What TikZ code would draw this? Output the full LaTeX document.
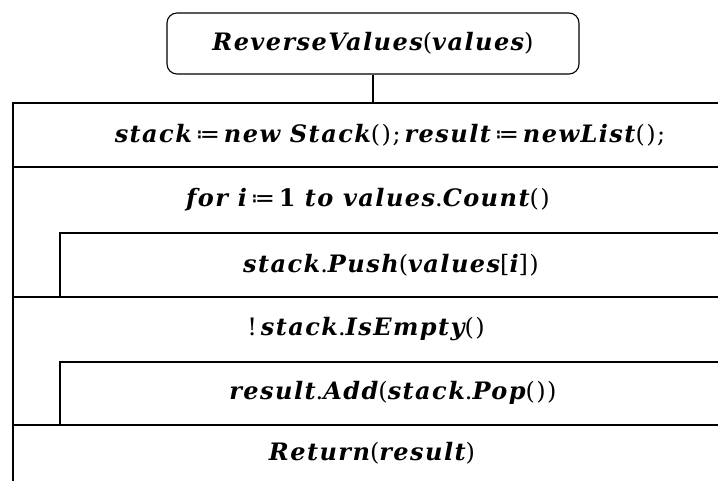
\documentclass[tikz,border=0pt]{standalone}
\usepackage{fontspec}
\setmainfont{DejaVu Serif}[LetterSpace=6]
\newfontfamily\symfont{DejaVu Sans}
\newcommand\bi[1]{{\bfseries\itshape #1}}
\newcommand\up[1]{{\mdseries\upshape #1}}
\newcommand\defeq{\,{\symfont\mdseries\upshape ≔}\,}
\begin{document}
\begin{tikzpicture}[x=1pt,y=-1pt,
  main/.style={line width=1.8pt},
  txt/.style={font=\fontsize{24}{28}\selectfont, inner sep=0pt},
  title/.style={draw, line width=1.1pt, rounded corners=10pt, minimum width=412pt, minimum height=61pt, font=\fontsize{24}{28}\selectfont}]
\useasboundingbox (0,0) rectangle (718,481);
\node[title] (rv) at (373,43.5) {\bi{ReverseValues}\up{(}\bi{values}\up{)}};
\coordinate (top) at (373,103);
\draw[line width=1.1pt] (rv.south) -- (top);
\draw[main] (13,481) -- (13,103) -- (718,103);
\draw[main] (13,167) -- (718,167);
\draw[main] (60,297) -- (60,233) -- (718,233);
\draw[main] (13,297) -- (718,297);
\draw[main] (60,425) -- (60,362) -- (718,362);
\draw[main] (13,425) -- (718,425);
\node[txt] (t1) at (390,135) {\bi{stack}\defeq\bi{new Stack}\up{();}\,\bi{result}\defeq\bi{newList}\up{();}};
\node[txt] (t2) at (368,200) {\bi{for i}\defeq\up{\bfseries 1} \bi{to values}\up{.}\bi{Count}\up{()}};
\node[txt] (t3) at (391,265) {\bi{stack}\up{.}\bi{Push}\up{(}\bi{values}\up{[}\bi{i}\up{])}};
\node[txt] (t4) at (366,329) {\up{!}\,\bi{stack}\up{.}\bi{IsEmpty}\up{()}};
\node[txt] (t5) at (393,393) {\bi{result}\up{.}\bi{Add}\up{(}\bi{stack}\up{.}\bi{Pop}\up{())}};
\node[txt] (t6) at (372,453) {\bi{Return}\up{(}\bi{result}\up{)}};
\end{tikzpicture}
\end{document}
